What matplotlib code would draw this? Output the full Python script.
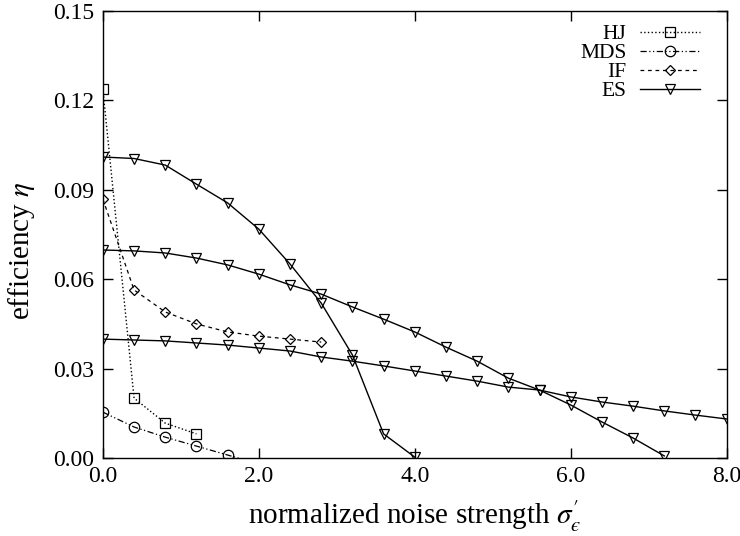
import matplotlib
matplotlib.use("Agg")
import matplotlib.pyplot as plt
from matplotlib.ticker import MultipleLocator, FormatStrFormatter

plt.rcParams['font.family'] = ['Liberation Serif', 'DejaVu Serif']
plt.rcParams['mathtext.fontset'] = 'stix'

# data
hj_x = [0.0, 0.4, 0.8, 1.2]
hj_y = [0.1238, 0.0201, 0.0117, 0.0081]

mds_x = [0.0, 0.4, 0.8, 1.2, 1.6, 2.0]
mds_y = [0.0154, 0.0104, 0.0070, 0.0040, 0.0010, -0.0020]

if_x = [0.0, 0.4, 0.8, 1.2, 1.6, 2.0, 2.4, 2.8]
if_y = [0.0869, 0.0564, 0.0490, 0.0450, 0.0423, 0.0409, 0.0399, 0.0389]

es1_x = [0.0, 0.4, 0.8, 1.2, 1.6, 2.0, 2.4, 2.8, 3.2, 3.6, 4.0]
es1_y = [0.1010, 0.1005, 0.0983, 0.0919, 0.0856, 0.0768, 0.0651, 0.0520,
         0.0346, 0.0081, 0.0003]

es2_x = [0.0, 0.4, 0.8, 1.2, 1.6, 2.0, 2.4, 2.8, 3.2, 3.6, 4.0, 4.4, 4.8,
         5.2, 5.6, 6.0, 6.4, 6.8, 7.2]
es2_y = [0.0698, 0.0695, 0.0688, 0.0671, 0.0648, 0.0617, 0.0581, 0.0550,
         0.0507, 0.0466, 0.0423, 0.0372, 0.0325, 0.0268, 0.0228, 0.0178,
         0.0121, 0.0067, 0.0007]

es3_x = [0.0, 0.4, 0.8, 1.2, 1.6, 2.0, 2.4, 2.8, 3.2, 3.6, 4.0, 4.4, 4.8,
         5.2, 5.6, 6.0, 6.4, 6.8, 7.2, 7.6, 8.0]
es3_y = [0.0399, 0.0396, 0.0393, 0.0386, 0.0379, 0.0369, 0.0359, 0.0339,
         0.0325, 0.0309, 0.0292, 0.0275, 0.0258, 0.0238, 0.0228, 0.0205,
         0.0188, 0.0174, 0.0158, 0.0144, 0.0131]

fig = plt.figure(figsize=(7.4, 5.36), dpi=100)
ax = fig.add_axes([0.139, 0.1455, 0.843, 0.834])

mk = dict(fillstyle='none', markersize=7.5, markeredgewidth=0.9, color='black')

ax.plot(hj_x, hj_y, linestyle=':', linewidth=1.0, marker='s', label='HJ', **mk)
ax.plot(mds_x, mds_y, linestyle=(0, (5, 2, 1, 2, 1, 2)), linewidth=0.9,
        marker='o', markevery=list(range(len(mds_x) - 1)), label='MDS', **mk)
ax.plot(if_x, if_y, linestyle=(0, (3, 3)), linewidth=0.9, marker='D',
        label='IF', fillstyle='none', markersize=5.5, markeredgewidth=0.9,
        color='black')
ax.plot(es1_x, es1_y, linestyle='-', linewidth=1.0, marker='v', label='ES', **mk)
ax.plot(es2_x, es2_y, linestyle='-', linewidth=1.0, marker='v', **mk)
ax.plot(es3_x, es3_y, linestyle='-', linewidth=1.0, marker='v', **mk)

ax.set_xlim(0, 8)
ax.set_ylim(0, 0.15)
ax.xaxis.set_major_locator(MultipleLocator(2.0))
ax.yaxis.set_major_locator(MultipleLocator(0.03))
ax.xaxis.set_major_formatter(FormatStrFormatter('%.1f'))
ax.yaxis.set_major_formatter(FormatStrFormatter('%.2f'))
ax.tick_params(direction='in', length=7, width=1.0, top=True, right=True,
               labelsize=17, pad=6)
for s in ax.spines.values():
    s.set_linewidth(1.0)

ax.set_xlabel("normalized noise strength $\\sigma_{\u03f5}^{\u2032}$",
              fontsize=21, labelpad=8)
ax.set_ylabel("efficiency $\\eta$", fontsize=21)
ax.yaxis.set_label_coords(-0.106, 0.463)

ax.legend(loc='upper right', bbox_to_anchor=(0.957, 0.970), frameon=False,
          markerfirst=False, fontsize=15.5, handlelength=2.8,
          handletextpad=0.6, labelspacing=-0.05, borderaxespad=0.0,
          borderpad=0.0)

plt.savefig("out.png", dpi=100)
